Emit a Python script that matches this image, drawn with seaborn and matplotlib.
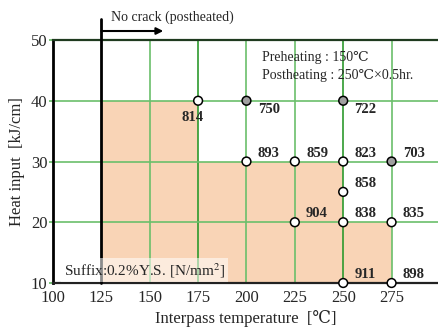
import matplotlib
matplotlib.use("Agg")
import matplotlib.pyplot as plt
import matplotlib.transforms as mtransforms
import seaborn as sns
import pandas as pd

# ---- data ----
temps = [175, 200, 250, 200, 225, 250, 275, 250, 225, 250, 275, 250, 275]
heat = [40, 40, 40, 30, 30, 30, 30, 25, 20, 20, 20, 10, 10]
ys_vals = [814, 750, 722, 893, 859, 823, 703, 858, 904, 838, 835, 911, 898]
status = ["open", "gray", "gray", "open", "open", "open", "gray", "open",
          "open", "open", "open", "open", "open"]
label_pos = ["b", "lr", "lr", "ur", "ur", "ur", "ur", "ur", "ur", "ur", "ur", "ur", "ur"]

# no-crack region boundary (step outline)
region_x = [125, 125, 175, 175, 250, 250, 275, 275]
region_y = [10, 40, 40, 30, 30, 20, 20, 10]

xticks = [100, 125, 150, 175, 200, 225, 250, 275]
yticks = [10, 20, 30, 40, 50]
grid_x = [150, 175, 200, 225, 250, 275]
grid_y = [20, 30, 40]
no_crack_x = 125

df = pd.DataFrame({"temp": temps, "heat": heat, "ys": ys_vals, "status": status})

sns.set_theme(style="white")
plt.rcParams["font.family"] = ["Liberation Serif", "DejaVu Serif", "DejaVu Sans"]
plt.rcParams["mathtext.fontset"] = "stix"

fig = plt.figure(figsize=(4.38, 3.31), dpi=100)
ax = fig.add_axes([53 / 438, 1 - 283 / 331, 1 - 53 / 438, 243 / 331])

# shaded region
ax.fill(region_x, region_y, color="#F9D4B6", zorder=0, lw=0)

# grid
light_g = "#6BBF6B"
dark_g = "#2E9A2E"
for gx in grid_x:
    ax.axvline(gx, color=dark_g if gx in (175, 250) else light_g, lw=1.2, zorder=1)
for gy in grid_y:
    ax.axhline(gy, color=light_g, lw=1.2, zorder=1)

# no crack line
trans = mtransforms.blended_transform_factory(ax.transData, ax.transAxes)
ax.plot([no_crack_x, no_crack_x], [0, 1.087], color="black", lw=2, transform=trans,
        clip_on=False, zorder=5)
ax.annotate("", xy=(157, 1.037), xytext=(no_crack_x, 1.037), xycoords=trans,
            textcoords=trans,
            arrowprops=dict(arrowstyle="-|>", color="black", lw=1.5,
                            mutation_scale=10, shrinkA=0, shrinkB=0))
ax.text(130, 1.095, "No crack (postheated)", transform=trans, fontsize=10,
        ha="left", va="center")

# points
sns.scatterplot(data=df, x="temp", y="heat", hue="status",
                palette={"open": "white", "gray": "#A0A0A0"},
                edgecolor="black", linewidth=1.1, s=40, legend=False,
                ax=ax, zorder=6, clip_on=False)

offsets = {"ur": (16, 6), "lr": (16, -6), "b": (-4, -12)}
for x, y, v, p in zip(temps, heat, ys_vals, label_pos):
    ax.annotate(str(v), (x, y), xytext=offsets[p], textcoords="offset points",
                ha="center", va="center", fontsize=10.5, fontweight="bold", zorder=7)

# annotations
ax.text(208, 47.2, "Preheating : 150℃", fontsize=10, ha="left", va="center")
ax.text(208, 44.2, "Postheating : 250℃×0.5hr.", fontsize=10, ha="left", va="center")
ax.text(105.5, 12.1, "Suffix:0.2%Y.S. [N/mm$^2$]", fontsize=11, ha="left",
        va="center", zorder=8,
        bbox=dict(facecolor="white", alpha=0.55, edgecolor="none", pad=2))

ax.set_xlim(100, 299)
ax.set_ylim(10, 50)
ax.set_xticks(xticks)
ax.set_yticks(yticks)
ax.tick_params(axis="x", length=0, labelsize=12, pad=5)
ax.tick_params(axis="y", length=3, color=light_g, labelsize=12, pad=1, left=True)
ax.set_xlabel("Interpass temperature  [℃]", fontsize=12, labelpad=3)
ax.set_ylabel("Heat input  [kJ/cm]", fontsize=12, labelpad=4)

ax.spines["right"].set_visible(False)
ax.spines["left"].set_color("black")
ax.spines["left"].set_linewidth(2)
ax.spines["bottom"].set_color("#222222")
ax.spines["bottom"].set_linewidth(1.6)
ax.spines["top"].set_color("#1F3A1F")
ax.spines["top"].set_linewidth(1.6)

fig.savefig("out.png", dpi=100)
